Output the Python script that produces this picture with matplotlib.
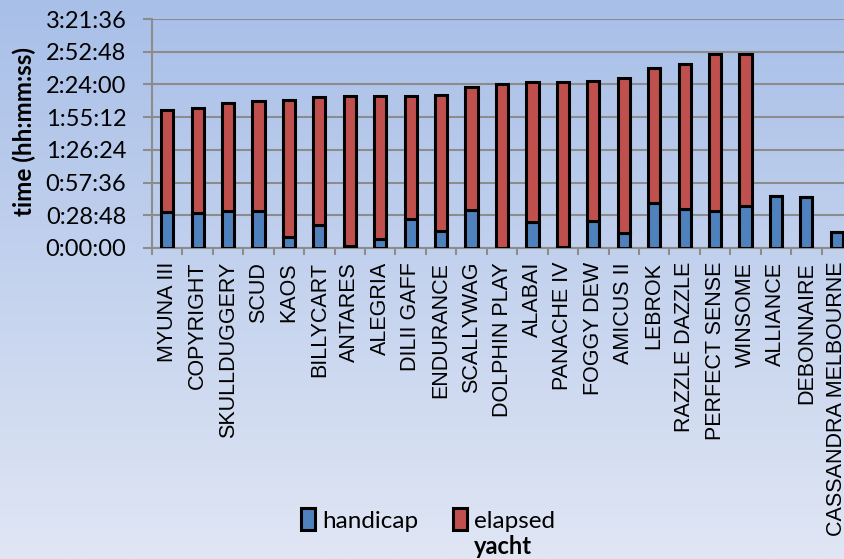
#!/usr/bin/env python3
"""Stacked handicap / elapsed race times per yacht."""

import matplotlib
matplotlib.use("Agg")
import matplotlib.pyplot as plt
import numpy as np
from matplotlib.patches import Patch
from matplotlib.ticker import FuncFormatter, MultipleLocator

yachts = [
    "MYUNA III", "COPYRIGHT", "SKULLDUGGERY", "SCUD", "KAOS", "BILLYCART",
    "ANTARES", "ALEGRIA", "DILII GAFF", "ENDURANCE", "SCALLYWAG",
    "DOLPHIN PLAY", "ALABAI", "PANACHE IV", "FOGGY DEW", "AMICUS II",
    "LEBROK", "RAZZLE DAZZLE", "PERFECT SENSE", "WINSOME", "ALLIANCE",
    "DEBONNAIRE", "CASSANDRA MELBOURNE",
]
handicap = [
    "0:31:24", "0:30:30", "0:32:36", "0:32:36", "0:09:24", "0:20:12",
    "0:02:00", "0:07:36", "0:25:12", "0:15:00", "0:33:30", "0:00:00",
    "0:22:36", "0:00:48", "0:23:48", "0:13:30", "0:39:18", "0:34:00",
    "0:32:36", "0:37:18", "0:45:24", "0:44:30", "0:14:30",
]
elapsed = [
    "1:29:42", "1:32:36", "1:34:54", "1:36:24", "2:01:06", "1:52:18",
    "2:11:24", "2:05:48", "1:48:12", "1:59:54", "1:48:06", "2:24:12",
    "2:03:06", "2:24:54", "2:02:48", "2:16:00", "1:59:36", "2:08:12",
    "2:18:00", "2:13:18", "0:00:00", "0:00:00", "0:00:00",
]


def to_seconds(s):
    h, m, sec = (int(p) for p in s.split(":"))
    return h * 3600 + m * 60 + sec


def fmt_hms(v, pos=None):
    v = int(round(v))
    return f"{v // 3600}:{(v % 3600) // 60:02d}:{v % 60:02d}"


hc = np.array([to_seconds(s) for s in handicap])
el = np.array([to_seconds(s) for s in elapsed])
x = np.arange(len(yachts))

W, H = 844, 559
fig = plt.figure(figsize=(W / 100, H / 100), dpi=100)

# gradient background
bg = fig.add_axes([0, 0, 1, 1], zorder=-1)
top = np.array([168, 191, 232]) / 255
bot = np.array([224, 230, 244]) / 255
t = np.linspace(0, 1, 256)[:, None, None]
grad = (top * (1 - t) + bot * t) * np.ones((1, 2, 1))
bg.imshow(grad, aspect="auto", extent=[0, 1, 0, 1])
bg.axis("off")

# plot area runs slightly past the right edge of the picture
ax = fig.add_axes([152 / W, 1 - 248 / H, 700 / W, 229 / H])
ax.set_facecolor("none")

bar_kw = dict(width=0.4, edgecolor="black", linewidth=2.2, zorder=3)
ax.bar(x, hc, color="#4f81bd", **bar_kw)
ax.bar(x, el, bottom=hc, color="#c0504d", **bar_kw)

ax.set_xlim(-0.5, len(yachts) - 0.5)
ax.set_ylim(0, 12096)
ax.yaxis.set_major_locator(MultipleLocator(1728))
ax.yaxis.set_major_formatter(FuncFormatter(fmt_hms))
ax.grid(axis="y", color="#8c8c8c", linewidth=1.5, zorder=0)
ax.set_axisbelow(True)

for side in ("top", "right"):
    ax.spines[side].set_visible(False)
for side in ("left", "bottom"):
    ax.spines[side].set_color("#8c8c8c")
    ax.spines[side].set_linewidth(1.5)

ax.tick_params(axis="y", length=6.5, width=1.5, color="#8c8c8c", pad=12,
               labelsize=17)
for lab in ax.get_yticklabels():
    lab.set_fontfamily("Lato")

ax.set_xticks(x)
ax.set_xticklabels(yachts, rotation=90, va="top", ha="center",
                   fontfamily="Liberation Sans", fontsize=15.5)
ax.set_xticks(np.arange(len(yachts) + 1) - 0.5, minor=True)
ax.tick_params(axis="x", which="major", length=0, pad=10)
ax.tick_params(axis="x", which="minor", length=5, width=1.5, color="#8c8c8c")

fig.text(24 / W, 1 - 132 / H, "time (hh:mm:ss)", rotation=90, ha="center",
         va="center", fontsize=17.5, fontweight="bold", fontfamily="Lato")
fig.text(503 / W, 1 - 546 / H, "yacht", ha="center", va="center",
         fontsize=17, fontweight="bold", fontfamily="Lato")

handles = [
    Patch(facecolor="#4f81bd", edgecolor="black", linewidth=2.2, label="handicap"),
    Patch(facecolor="#c0504d", edgecolor="black", linewidth=2.2, label="elapsed"),
]
fig.legend(handles=handles, loc="center", bbox_to_anchor=(428 / W, 1 - 520 / H),
           ncol=2, frameon=False, handlelength=0.6, handleheight=1.0,
           handletextpad=0.3, columnspacing=1.4,
           prop={"family": "Lato", "size": 17.5})

fig.savefig("out.png", dpi=100)
